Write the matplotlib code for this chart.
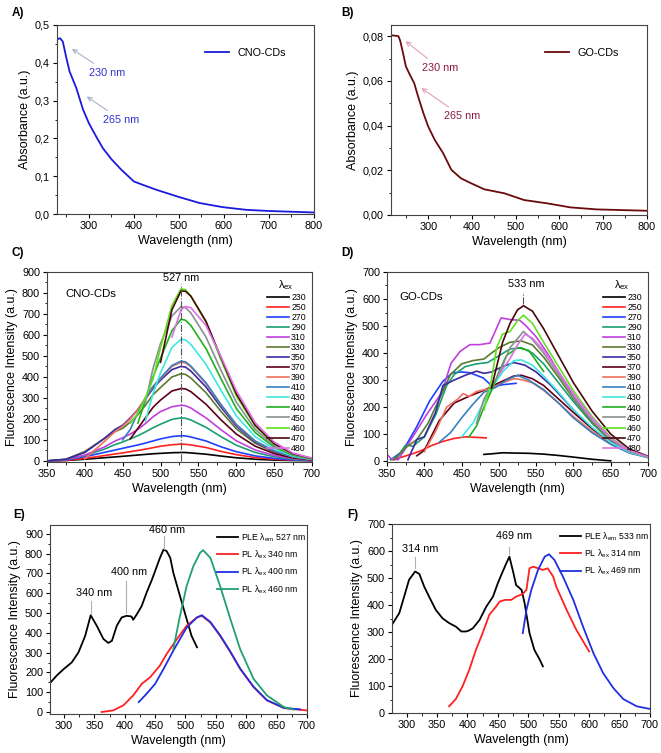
import numpy as np
import matplotlib.pyplot as plt
from matplotlib.ticker import MultipleLocator, FuncFormatter

N = np.nan

# ---------------- A) / B) absorbance ----------------
wl_a = [229, 236, 242, 250, 257, 272, 287, 300, 316, 331, 350, 372, 400, 420, 450,
        500, 546, 598, 650, 700, 800]
abs_cno = [0.462, 0.465, 0.456, 0.412, 0.377, 0.333, 0.276, 0.240, 0.205, 0.174, 0.145,
           0.117, 0.086, 0.077, 0.064, 0.045, 0.029, 0.018, 0.011, 0.008, 0.004]

wl_b = [217, 232, 236, 243, 249, 258, 268, 277, 289, 300, 315, 334, 353, 375, 398, 428,
        474, 519, 572, 625, 685, 798]
abs_go = [0.0804, 0.0800, 0.0780, 0.0720, 0.0665, 0.0628, 0.0590, 0.0530, 0.0456, 0.0396,
          0.0336, 0.0277, 0.0202, 0.0164, 0.0142, 0.0115, 0.0097, 0.0067, 0.0052, 0.0034,
          0.0025, 0.0019]

# ---------------- C) CNO-CDs emission ----------------
lam_ex = [230, 250, 270, 290, 310, 330, 350, 370, 390, 410, 430, 440, 450, 460, 470, 480]
ex_colors = ['#000000', '#ff2020', '#2040ff', '#1aa070', '#c040e0', '#5a7a30', '#3a2aa0',
             '#600018', '#f07060', '#3a80c0', '#40e8e0', '#20b020', '#8a9090', '#60e020',
             '#4a0808', '#e070e8']

wl_c = [350, 375, 400, 425, 440, 450, 460, 470, 480, 490, 500, 515, 527, 533, 540, 560,
        580, 600, 625, 650, 675, 700]
cno_pl = [
    [0, 2, 8, 15, 19, 22, 25, 28, 31, 34, 36, 39, 40, 40, 38, 32, 23, 15, 8, 4, 2, 1],
    [0, 3, 12, 25, 33, 38, 44, 50, 56, 63, 70, 77, 80, 79, 76, 64, 45, 30, 16, 8, 4, 2],
    [0, 5, 20, 40, 52, 60, 68, 76, 85, 95, 105, 116, 120, 119, 114, 95, 67, 44, 24, 12, 5, 2],
    [0, 6, 25, 55, 78, 90, 105, 120, 138, 158, 175, 198, 205, 203, 195, 160, 115, 75, 40, 20, 8, 3],
    [0, 6, 28, 65, 95, 110, 128, 150, 178, 210, 235, 258, 265, 263, 252, 205, 148, 96, 52, 26, 11, 4],
    [0, 8, 45, 105, 140, 155, 185, 220, 265, 315, 350, 400, 415, 412, 395, 325, 235, 153, 84, 42, 17, 6],
    [0, 8, 40, 105, 150, 170, 205, 245, 295, 345, 385, 435, 450, 447, 428, 352, 255, 166, 90, 45, 18, 7],
    [N, N, N, N, N, N, 105, 155, 205, 255, 290, 333, 345, 343, 330, 270, 195, 128, 70, 35, 14, 5],
    [N, N, 10, 90, 140, 165, 200, 245, 300, 352, 392, 450, 470, 467, 448, 368, 265, 172, 94, 47, 19, 7],
    [N, N, N, N, N, 100, 150, 230, 300, 355, 395, 455, 475, 472, 452, 372, 268, 174, 95, 48, 19, 7],
    [N, N, N, N, N, N, N, N, 190, 320, 420, 540, 580, 576, 555, 460, 335, 215, 115, 57, 23, 8],
    [N, N, N, N, N, N, N, 180, 290, 400, 490, 620, 675, 670, 645, 535, 390, 250, 135, 66, 27, 9],
    [N, N, N, N, N, N, N, N, 280, 440, 560, 690, 735, 730, 705, 590, 430, 280, 150, 73, 30, 10],
    [N, N, N, N, N, N, 180, 225, 300, 390, 540, 740, 820, 815, 785, 660, 480, 310, 165, 80, 33, 11],
    [N, N, N, N, N, N, N, N, N, N, 470, 720, 810, 808, 785, 665, 490, 320, 170, 82, 34, 12],
    [N, N, N, N, N, N, N, N, N, N, N, 590, 720, 735, 730, 645, 495, 335, 182, 90, 37, 13],
]

# ---------------- D) GO-CDs emission (each curve has its own wavelengths) ----------------
go_wl = [
    [480, 490, 505, 520, 540, 560, 580, 600, 625, 650],
    [358, 370, 385, 395, 410, 425, 440, 455, 470, 483],
    [355, 371, 389, 407, 425, 438, 450, 461, 479, 492, 505, 523],
    [355, 365, 375, 385, 400, 415, 430, 440, 455, 470, 485, 500, 515, 530, 545, 560, 580, 600, 625, 650, 675, 700],
    [350, 355, 365, 385, 403, 423, 436, 448, 461, 474, 488, 494, 503, 515, 528, 537, 550, 565, 580, 600, 625, 650, 675, 700],
    [360, 375, 390, 405, 420, 435, 450, 465, 480, 490, 500, 515, 530, 545, 560, 580, 600, 625, 650, 675, 700],
    [378, 390, 400, 415, 425, 440, 455, 470, 480, 490, 505, 520, 535, 550, 570, 590, 610, 630, 650, 675, 700],
    [390, 400, 420, 440, 460, 480, 500, 520, 530, 545, 560, 580, 600, 625, 650, 675, 700],
    [400, 415, 430, 445, 452, 460, 470, 490, 505, 520, 530, 545, 560, 580, 600, 625, 650, 675, 700],
    [420, 435, 450, 465, 480, 495, 510, 525, 540, 560, 580, 600, 625, 650, 675, 700],
    [450, 465, 480, 490, 505, 520, 530, 545, 560, 580, 600, 625, 650, 675, 700],
    [460, 470, 480, 490, 500, 510, 525, 540, 560],
    [470, 480, 490, 500, 515, 533, 545, 560, 580, 600, 625, 650, 675, 700],
    [480, 490, 497, 505, 515, 525, 533, 545, 560, 580, 600, 625, 650, 675, 700],
    [490, 497, 505, 515, 525, 533, 545, 560, 580, 600, 625, 650, 675, 700],
    [500, 515, 525, 535, 545, 560, 580, 600, 625, 650, 675, 700],
]
go_pl = [
    [25, 27, 31, 30, 29, 26, 21, 15, 7, 1],
    [5, 15, 28, 38, 58, 73, 84, 90, 88, 86],
    [5, 37, 123, 222, 296, 327, 330, 327, 308, 275, 283, 288],
    [5, 20, 60, 55, 90, 170, 280, 320, 350, 360, 365, 390, 415, 420, 400, 360, 290, 220, 140, 75, 35, 15],
    [25, 10, 5, 92, 172, 252, 363, 406, 431, 431, 437, 474, 530, 524, 521, 499, 460, 400, 330, 240, 150, 80, 38, 16],
    [5, 50, 80, 140, 230, 320, 360, 372, 378, 400, 420, 440, 445, 430, 385, 310, 230, 145, 78, 36, 15],
    [5, 80, 90, 180, 280, 300, 318, 333, 325, 330, 350, 365, 355, 330, 280, 220, 160, 110, 72, 35, 15],
    [20, 40, 150, 215, 240, 262, 290, 315, 318, 305, 280, 230, 180, 120, 70, 34, 14],
    [35, 110, 200, 230, 250, 240, 258, 270, 290, 305, 302, 290, 262, 215, 165, 110, 65, 32, 14],
    [70, 105, 160, 210, 255, 272, 300, 318, 300, 265, 215, 160, 105, 62, 30, 13],
    [90, 140, 220, 270, 330, 372, 375, 355, 315, 255, 190, 125, 70, 33, 14],
    [90, 130, 200, 260, 330, 390, 420, 410, 332],
    [140, 230, 280, 320, 420, 480, 450, 400, 320, 235, 150, 80, 36, 15],
    [190, 300, 420, 470, 480, 520, 540, 510, 440, 350, 260, 165, 88, 40, 16],
    [270, 350, 440, 510, 560, 575, 555, 490, 390, 290, 185, 100, 45, 18],
    [320, 380, 430, 470, 455, 410, 330, 250, 160, 85, 40, 16],
]

# ---------------- E) CNO-CDs PLE / PL ----------------
ple_e_wl = [277, 288, 300, 313, 324, 335, 344, 354, 365, 373, 379, 387, 395, 403, 411,
            414, 420, 428, 436, 445, 453, 458, 464, 469, 475, 480, 491, 502, 510, 519]
ple_e = [146, 184, 218, 251, 302, 385, 489, 436, 369, 349, 360, 436, 478, 486, 483,
         466, 494, 536, 603, 670, 737, 779, 821, 813, 779, 704, 586, 469, 385, 327]
pl340_wl = [362, 381, 398, 414, 428, 442, 458, 469, 486, 502, 519, 527, 541, 557, 574,
            590, 612, 634, 662, 700]
pl340 = [0, 8, 34, 84, 142, 176, 235, 293, 369, 436, 478, 486, 452, 385, 302, 218, 126,
         59, 20, 8]
pl400_wl = [423, 436, 450, 464, 480, 502, 519, 527, 541, 557, 574, 590, 612, 634, 662, 689]
pl400 = [50, 92, 142, 218, 310, 427, 478, 489, 455, 388, 305, 220, 128, 60, 21, 13]
pl460_wl = [480, 491, 502, 513, 524, 529, 541, 557, 574, 590, 612, 634, 662, 678]
pl460 = [318, 486, 637, 737, 804, 818, 779, 637, 469, 318, 168, 84, 25, 12]

# ---------------- F) GO-CDs PLE / PL ----------------
ple_f_wl = [276, 288, 296, 304, 314, 321, 329, 337, 348, 359, 370, 381, 390, 398, 403,
            409, 420, 431, 442, 450, 458, 464, 469, 475, 480, 489, 494, 502, 510, 519, 524]
ple_f = [327, 370, 431, 493, 524, 515, 468, 431, 382, 351, 333, 320, 302, 302, 306,
         314, 345, 394, 431, 481, 524, 555, 579, 524, 474, 456, 407, 296, 234, 197, 173]
pl314_wl = [370, 381, 392, 403, 414, 425, 431, 436, 447, 453, 462, 472, 480, 491, 497,
            502, 508, 516, 524, 532, 541, 546, 563, 579, 600]
pl314 = [25, 52, 99, 160, 234, 296, 333, 364, 394, 413, 419, 419, 431, 441, 456, 536,
         542, 536, 530, 536, 505, 468, 382, 308, 228]
pl469_wl = [491, 497, 505, 516, 527, 534, 543, 557, 574, 590, 607, 623, 640, 656, 678, 700]
pl469 = [296, 382, 456, 530, 579, 588, 567, 505, 419, 320, 222, 148, 92, 52, 25, 15]

plt.rcParams['font.family'] = ['Liberation Sans', 'DejaVu Sans']
plt.rcParams['mathtext.fontset'] = 'custom'
plt.rcParams['mathtext.rm'] = 'Liberation Sans'
plt.rcParams['mathtext.it'] = 'Liberation Sans'
plt.rcParams['axes.edgecolor'] = '#444444'
plt.rcParams['axes.linewidth'] = 0.8
plt.rcParams['xtick.labelsize'] = 7.8
plt.rcParams['ytick.labelsize'] = 7.8
plt.rcParams['xtick.major.size'] = 3
plt.rcParams['ytick.major.size'] = 3
plt.rcParams['xtick.minor.size'] = 1.8
plt.rcParams['ytick.minor.size'] = 1.8

LABEL_FS = 9
LW = 1.3
comma = FuncFormatter(lambda v, p: ('%.1f' % v).replace('.', ','))
comma2 = FuncFormatter(lambda v, p: ('%.2f' % v).replace('.', ','))


def style_axis(ax, xmaj, xmin, ymaj, ymin, ylabel):
    ax.xaxis.set_major_locator(MultipleLocator(xmaj))
    ax.xaxis.set_minor_locator(MultipleLocator(xmin))
    ax.yaxis.set_major_locator(MultipleLocator(ymaj))
    ax.yaxis.set_minor_locator(MultipleLocator(ymin))
    ax.tick_params(pad=2)
    ax.set_xlabel('Wavelength (nm)', fontsize=LABEL_FS, labelpad=3)
    ax.set_ylabel(ylabel, fontsize=LABEL_FS, labelpad=3)


fig = plt.figure(figsize=(6.61, 7.53), dpi=100)

# A)
ax = fig.add_axes([0.0862, 0.7158, 0.3888, 0.251])
ax.plot(wl_a, abs_cno, color='#1a1adc', lw=LW, label='CNO-CDs')
ax.set_xlim(229, 800)
ax.set_ylim(0, 0.5)
style_axis(ax, 100, 50, 0.1, 0.05, 'Absorbance (a.u.)')
ax.yaxis.set_major_formatter(comma)
arrow = dict(arrowstyle='->', color='#a8b0d0', lw=0.8)
ax.annotate('230 nm', xy=(257, 0.441), xytext=(301, 0.374), color='#3030d0', fontsize=7.8,
            va='center', arrowprops=arrow)
ax.annotate('265 nm', xy=(290, 0.315), xytext=(331, 0.249), color='#3030d0', fontsize=7.8,
            va='center', arrowprops=arrow)
ax.legend(loc='upper right', bbox_to_anchor=(0.93, 0.93), frameon=False, fontsize=7.8,
          handlelength=2.2)
fig.text(0.018, 0.983, 'A)', fontsize=8.5, fontweight='bold', va='center')

# B)
ax = fig.add_axes([0.5915, 0.7145, 0.3873, 0.2523])
ax.plot(wl_b, abs_go, color='#6b0a0a', lw=LW, label='GO-CDs')
ax.set_xlim(215, 800)
ax.set_ylim(0, 0.085)
style_axis(ax, 100, 50, 0.02, 0.01, 'Absorbance (a.u.)')
ax.yaxis.set_major_formatter(comma2)
arrow = dict(arrowstyle='->', color='#e0a0b8', lw=0.8)
ax.annotate('230 nm', xy=(243, 0.0785), xytext=(285, 0.0658), color='#8b1a3a', fontsize=7.8,
            va='center', arrowprops=arrow)
ax.annotate('265 nm', xy=(279, 0.0575), xytext=(336, 0.0441), color='#8b1a3a', fontsize=7.8,
            va='center', arrowprops=arrow)
ax.legend(loc='upper right', bbox_to_anchor=(0.93, 0.93), frameon=False, fontsize=7.8,
          handlelength=2.2)
fig.text(0.517, 0.983, 'B)', fontsize=8.5, fontweight='bold', va='center')

# C)
ax = fig.add_axes([0.0711, 0.3865, 0.4009, 0.2523])
for lex, col, ys in zip(lam_ex, ex_colors, cno_pl):
    ax.plot(wl_c, ys, color=col, lw=1.2, label=str(lex))
ax.plot([527, 527], [0, 845], ls='-.', color='#555555', lw=0.8)
ax.text(527, 870, '527 nm', ha='center', va='center', fontsize=7.8)
ax.text(374, 795, 'CNO-CDs', ha='left', va='center', fontsize=8.2)
ax.set_xlim(350, 700)
ax.set_ylim(-5, 900)
style_axis(ax, 50, 25, 100, 50, 'Fluorescence Intensity (a.u.)')
ax.legend(loc='upper right', bbox_to_anchor=(1.0, 1.0), frameon=False, fontsize=6.3,
          handlelength=2.6, labelspacing=0.12, handletextpad=0.2, borderaxespad=0.3,
          title=r'$\mathrm{\lambda_{ex}}$', title_fontsize=8)
fig.text(0.018, 0.664, 'C)', fontsize=8.5, fontweight='bold', va='center')

# D)
ax = fig.add_axes([0.5855, 0.3865, 0.3949, 0.2523])
for lex, col, xs, ys in zip(lam_ex, ex_colors, go_wl, go_pl):
    ax.plot(xs, ys, color=col, lw=1.2, label=str(lex))
ax.plot([533, 533], [580, 625], ls='-.', color='#555555', lw=0.8)
ax.text(537, 655, '533 nm', ha='center', va='center', fontsize=7.8)
ax.text(367, 608, 'GO-CDs', ha='left', va='center', fontsize=8.2)
ax.set_xlim(350, 700)
ax.set_ylim(-3, 700)
style_axis(ax, 50, 25, 100, 50, 'Fluorescence Intensity (a.u.)')
ax.legend(loc='upper right', bbox_to_anchor=(1.0, 1.0), frameon=False, fontsize=6.3,
          handlelength=2.6, labelspacing=0.12, handletextpad=0.2, borderaxespad=0.3,
          title=r'$\mathrm{\lambda_{ex}}$', title_fontsize=8)
fig.text(0.517, 0.664, 'D)', fontsize=8.5, fontweight='bold', va='center')

# E)
ax = fig.add_axes([0.0756, 0.0518, 0.3888, 0.251])
ax.plot(ple_e_wl, ple_e, color='#000000', lw=LW, label=r'PLE $\mathrm{\lambda_{em}}$ 527 nm')
ax.plot(pl340_wl, pl340, color='#ff2020', lw=LW, label=r'PL $\mathrm{\lambda_{ex}}$ 340 nm')
ax.plot(pl400_wl, pl400, color='#2030e0', lw=LW, label=r'PL $\mathrm{\lambda_{ex}}$ 400 nm')
ax.plot(pl460_wl, pl460, color='#20a070', lw=LW, label=r'PL $\mathrm{\lambda_{ex}}$ 460 nm')
for x0, y0, y1, txt, ty in [(344, 500, 561, '340 nm', 603), (402, 500, 662, '400 nm', 707),
                            (465, 826, 888, '460 nm', 918)]:
    ax.plot([x0, x0], [y0, y1], color='#b0b0b0', lw=0.8)
    ax.text(x0 + 5, ty, txt, ha='center', va='center', fontsize=7.8)
ax.set_xlim(277, 700)
ax.set_ylim(-10, 945)
style_axis(ax, 50, 25, 100, 50, 'Fluorescence Intensity (a.u.)')
ax.legend(loc='upper right', bbox_to_anchor=(1.02, 1.0), frameon=False, fontsize=6.3,
          handlelength=2.4, labelspacing=0.55, handletextpad=0.3, borderaxespad=0.3)
fig.text(0.02, 0.316, 'E)', fontsize=8.5, fontweight='bold', va='center')

# F)
ax = fig.add_axes([0.593, 0.0531, 0.3903, 0.251])
ax.plot(ple_f_wl, ple_f, color='#000000', lw=LW, label=r'PLE $\mathrm{\lambda_{em}}$ 533 nm')
ax.plot(pl314_wl, pl314, color='#ff2020', lw=LW, label=r'PL $\mathrm{\lambda_{ex}}$ 314 nm')
ax.plot(pl469_wl, pl469, color='#2030e0', lw=LW, label=r'PL $\mathrm{\lambda_{ex}}$ 469 nm')
for x0, y0, y1, txt, ty in [(314, 536, 579, '314 nm', 606), (469, 588, 616, '469 nm', 656)]:
    ax.plot([x0, x0], [y0, y1], color='#b0b0b0', lw=0.8)
    ax.text(x0 + 8, ty, txt, ha='center', va='center', fontsize=7.8)
ax.set_xlim(276, 700)
ax.set_ylim(0, 700)
style_axis(ax, 50, 25, 100, 50, 'Fluorescence Intensity (a.u.)')
ax.legend(loc='upper right', bbox_to_anchor=(1.02, 1.0), frameon=False, fontsize=6.3,
          handlelength=2.4, labelspacing=0.55, handletextpad=0.3, borderaxespad=0.3)
fig.text(0.525, 0.316, 'F)', fontsize=8.5, fontweight='bold', va='center')

fig.savefig('out.png', dpi=100)
